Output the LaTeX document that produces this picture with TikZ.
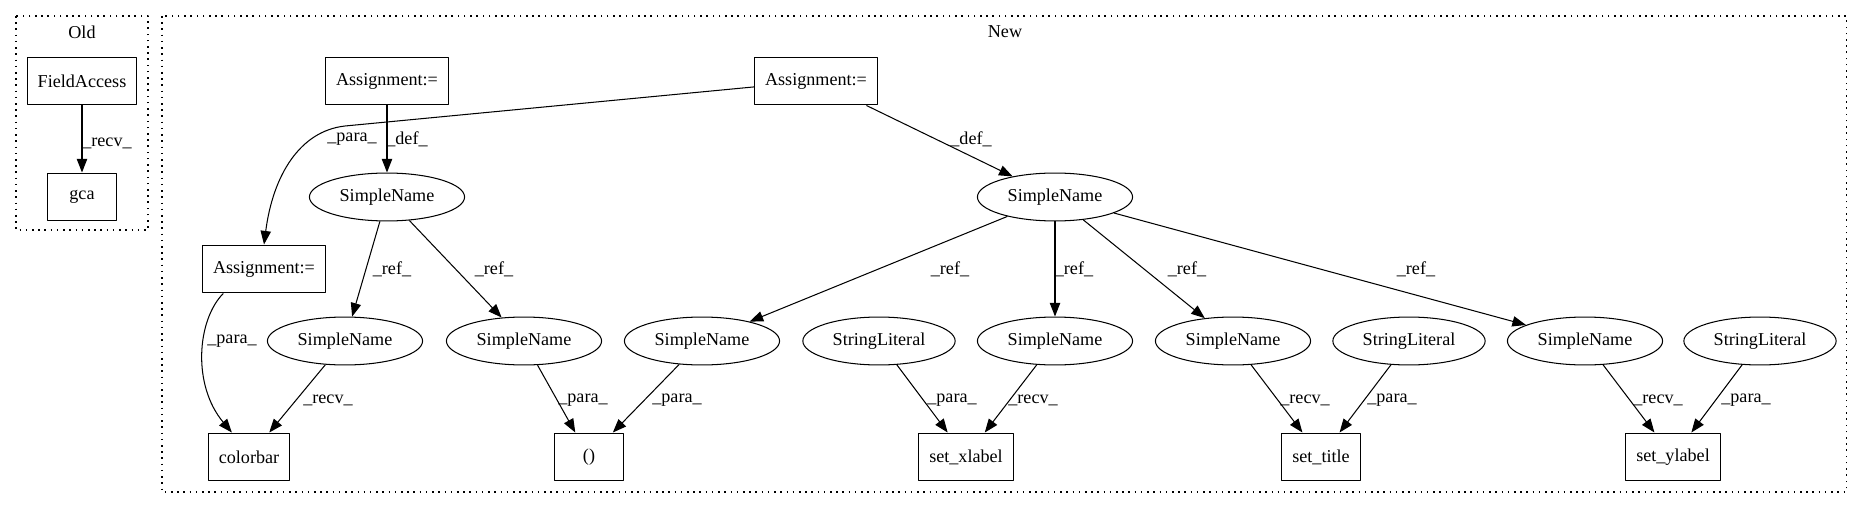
\documentclass[tikz,border=0pt]{standalone}
\usepackage{fontspec}
\setmainfont{Liberation Serif}
\usetikzlibrary{arrows.meta,shapes.geometric}

\begin{document}
\begin{tikzpicture}[x=0.772pt,y=-0.772pt,line join=round,
    font=\fontsize{14}{16}\selectfont,
    box/.style={draw,line width=0.8pt,rectangle,minimum width=54pt,minimum height=37pt,inner xsep=8pt},
    oval/.style={draw,line width=0.8pt,ellipse,minimum height=37pt,inner xsep=5.8pt,inner ysep=0pt},
    edge/.style={line width=0.8pt,-{Triangle[length=10.5pt,width=8pt]}},
    lbl/.style={inner sep=0pt},
    cluster/.style={line width=0.8pt,dash pattern=on 1.2pt off 3.6pt}]
  \useasboundingbox (0,0) rectangle (1863,508);

  % clusters
  \draw[cluster] (16,16) rectangle (148,230);
  \node[lbl] (oldT) at (82,32) {Old};
  \draw[cluster] (162,16) rectangle (1846,492);
  \node[lbl] (newT) at (1005,32) {New};

  % Old
  \node[box] (fa) at (82,81) {FieldAccess};
  \node[box] (gca) at (82,197) {gca};
  \draw[edge] (fa) -- (gca);
  \node[lbl] (lfa) at (107,143) {\_recv\_};

  % New: top rows
  \node[box] (asgA) at (387,81) {Assignment:=};
  \node[box] (asgB) at (816,81) {Assignment:=};
  \node[oval] (snA) at (387,197) {SimpleName};
  \node[oval] (snB) at (1055,197) {SimpleName};
  \node[box] (asgC) at (264,269) {Assignment:=};

  % middle row
  \node[oval] (snC) at (345,341) {SimpleName};
  \node[oval] (snD) at (524,341) {SimpleName};
  \node[oval] (snE) at (702,341) {SimpleName};
  \node[oval] (slA) at (879,341) {StringLiteral};
  \node[oval] (snF) at (1055,341) {SimpleName};
  \node[oval] (snG) at (1233,341) {SimpleName};
  \node[oval] (slB) at (1409,341) {StringLiteral};
  \node[oval] (snH) at (1585,341) {SimpleName};
  \node[oval] (slC) at (1760,341) {StringLiteral};

  % bottom row
  \node[box] (cbar) at (249,457) {colorbar};
  \node[box] (paren) at (589,457) {()};
  \node[box] (xl) at (966,457) {set\_xlabel};
  \node[box] (ttl) at (1321,457) {set\_title};
  \node[box] (yl) at (1673,457) {set\_ylabel};

  % def / para from the assignments
  \draw[edge] (asgA) -- (snA);
  \node[lbl] (ldA) at (407,139) {\_def\_};
  \draw[edge] (asgB) -- (snB);
  \node[lbl] (ldB) at (971,139) {\_def\_};
  \draw[edge] (asgB) -- (345,126) .. controls (300,131) and (273,175) .. (asgC.north);
  \node[lbl] (lpB) at (352,139) {\_para\_};
  \draw[edge] (asgC.211) .. controls (197,320) and (192,385) .. (cbar.125);
  \node[lbl] (lpC) at (232,341) {\_para\_};

  % refs
  \draw[edge] (snA) -- (snC);
  \node[lbl] (lr1) at (392,269) {\_ref\_};
  \draw[edge] (snA) -- (snD);
  \node[lbl] (lr2) at (494,269) {\_ref\_};
  \draw[edge] (snB) -- (snE);
  \node[lbl] (lr3) at (950,269) {\_ref\_};
  \draw[edge] (snB) -- (snF);
  \node[lbl] (lr4) at (1074,269) {\_ref\_};
  \draw[edge] (snB) -- (snG);
  \node[lbl] (lr5) at (1187,269) {\_ref\_};
  \draw[edge] (snB) -- (snH);
  \node[lbl] (lr6) at (1416,269) {\_ref\_};

  % calls
  \draw[edge] (snC) -- (cbar);
  \node[lbl] (lc1) at (328,400) {\_recv\_};
  \draw[edge] (snD) -- (paren);
  \node[lbl] (lc2) at (583,400) {\_para\_};
  \draw[edge] (snE) -- (paren);
  \node[lbl] (lc3) at (677,400) {\_para\_};
  \draw[edge] (slA) -- (xl);
  \node[lbl] (lc4) at (952,400) {\_para\_};
  \draw[edge] (snF) -- (xl);
  \node[lbl] (lc5) at (1033,400) {\_recv\_};
  \draw[edge] (snG) -- (ttl);
  \node[lbl] (lc6) at (1305,400) {\_recv\_};
  \draw[edge] (slB) -- (ttl);
  \node[lbl] (lc7) at (1392,400) {\_para\_};
  \draw[edge] (snH) -- (yl);
  \node[lbl] (lc8) at (1658,400) {\_recv\_};
  \draw[edge] (slC) -- (yl);
  \node[lbl] (lc9) at (1746,400) {\_para\_};
\end{tikzpicture}
\end{document}
